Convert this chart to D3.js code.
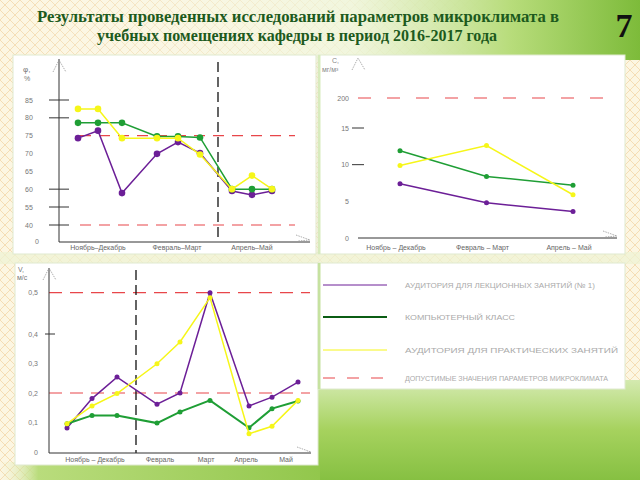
<!DOCTYPE html>
<html><head><meta charset="utf-8">
<script src="https://cdn.jsdelivr.net/npm/d3@7"></script>
<style>body{margin:0;overflow:hidden;background:#fff} svg{display:block}</style>
</head><body><svg id="c" width="640" height="480"></svg>
<script>
// ---------- DATA ----------
const titleLines = ["Результаты проведенных исследований параметров микроклимата в",
                    "учебных помещениях кафедры в период 2016-2017 года"];
const slideNumber = "7";
const legendNames = ["АУДИТОРИЯ ДЛЯ ЛЕКЦИОННЫХ ЗАНЯТИЙ (№ 1)", "КОМПЬЮТЕРНЫЙ КЛАСС",
                     "АУДИТОРИЯ ДЛЯ ПРАКТИЧЕСКИХ ЗАНЯТИЙ", "ДОПУСТИМЫЕ ЗНАЧЕНИЯ ПАРАМЕТРОВ МИКРОКЛИМАТА"];

// Chart 1 – relative humidity, %
const humPeriods = ["Ноябрь–Декабрь", "Февраль–Март", "Апрель–Май"];
const humPeriodDays = [20, 99, 174];
const humDays = [0, 20, 44, 79, 100, 122, 154, 174, 194];
const humBreakDay = 140;
const humTicks = [0, 40, 55, 60, 65, 70, 75, 80, 85];
const humTickMarks = [40, 55, 60, 80, 85];
const humLimits = [40, 75];
const humLecture  = [74.3, 76.4, 58.9, 69.9, 73.2, 70.1, 59.5, 58.4, 59.5];
const humComputer = [78.6, 78.6, 78.6, 74.8, 74.8, 74.5, 60.0, 60.0, 60.0];
const humPractice = [82.5, 82.5, 74.3, 74.3, 74.3, 69.7, 60.0, 63.8, 60.0];

// Chart 2 – concentration, мг/м3
const dustPeriods = ["Ноябрь – Декабрь", "Февраль – Март", "Апрель – Май"];
const dustTicks = [0, 5, 10, 15, 200];
const dustTickMarks = [10, 15];
const dustLimit = 200;
const dustLecture  = [7.4, 4.8, 3.6];
const dustComputer = [11.9, 8.4, 7.2];
const dustPractice = [9.9, 12.6, 5.9];

// Chart 3 – air velocity, м/с
const velLabels = ["Ноябрь – Декабрь", "Февраль", "Март", "Апрель", "Май"];
const velLabelDays = [28, 93, 139, 179, 219];
const velDays = [0, 25, 50, 90, 113, 143, 182, 205, 231];
const velBreakDay = 69;
const velTicks = [0, 0.1, 0.2, 0.3, 0.4, 0.5];
const velTickMarks = [0.4];
const velLimits = [0.2, 0.5];
const velLecture  = [0.081, 0.181, 0.254, 0.162, 0.200, 0.500, 0.156, 0.186, 0.237];
const velComputer = [0.096, 0.124, 0.124, 0.098, 0.136, 0.175, 0.082, 0.147, 0.173];
const velPractice = [0.096, 0.156, 0.198, 0.299, 0.373, 0.488, 0.062, 0.087, 0.175];

// ---------- STYLE ----------
const C = {purple:"#6c1f97", green:"#1f9e35", yellow:"#f6f619", red:"#e8464a", legGreen:"#0b5d14"};
const svg = d3.select("#c");
const defs = svg.append("defs");

// background
const pat = defs.append("pattern").attr("id","lat").attr("width",10).attr("height",10)
  .attr("patternUnits","userSpaceOnUse");
pat.append("rect").attr("width",10).attr("height",10).attr("fill","#fcf6e2");
pat.append("path").attr("d","M0,0L10,10M10,0L0,10").attr("stroke","#f3d7a8").attr("stroke-width",0.8);
svg.append("rect").attr("width",640).attr("height",480).attr("fill","url(#lat)");

const gTop = defs.append("linearGradient").attr("id","gTop").attr("x1","0").attr("x2","1").attr("y1","0").attr("y2","0");
gTop.append("stop").attr("offset","0").attr("stop-color","#fdfaf0").attr("stop-opacity",0);
gTop.append("stop").attr("offset","0.55").attr("stop-color","#eef6dc").attr("stop-opacity",0.8);
gTop.append("stop").attr("offset","0.8").attr("stop-color","#b7dc7a");
gTop.append("stop").attr("offset","1").attr("stop-color","#7dbb3a");
svg.append("rect").attr("x",0).attr("y",0).attr("width",640).attr("height",60).attr("fill","url(#gTop)");

const gBot = defs.append("linearGradient").attr("id","gBot").attr("x1","0").attr("x2","0").attr("y1","0").attr("y2","1");
gBot.append("stop").attr("offset","0").attr("stop-color","#d4eab0");
gBot.append("stop").attr("offset","0.5").attr("stop-color","#a6d25e");
gBot.append("stop").attr("offset","1").attr("stop-color","#86c042");
svg.append("rect").attr("x",316).attr("y",380).attr("width",324).attr("height",100).attr("fill","url(#gBot)");
const gBot2 = defs.append("linearGradient").attr("id","gBot2").attr("x1","0").attr("x2","1").attr("y1","0").attr("y2","0");
gBot2.append("stop").attr("offset","0").attr("stop-color","#e8f0c8").attr("stop-opacity",0);
gBot2.append("stop").attr("offset","0.12").attr("stop-color","#b9dc7c");
gBot2.append("stop").attr("offset","1").attr("stop-color","#92c74c");
svg.append("rect").attr("x",0).attr("y",462).attr("width",320).attr("height",18).attr("fill","url(#gBot2)");
svg.append("rect").attr("x",0).attr("y",252).attr("width",640).attr("height",12).attr("fill","#eef4d4").attr("opacity",0.7);

// title
const title = svg.append("g").attr("font-family","Liberation Serif, serif").attr("font-weight","bold")
  .attr("fill","#1d5a1d").attr("font-size",16).attr("text-anchor","middle");
title.append("text").attr("x",298).attr("y",22).attr("textLength",522).attr("lengthAdjust","spacingAndGlyphs").text(titleLines[0]);
title.append("text").attr("x",297).attr("y",41).attr("textLength",400).attr("lengthAdjust","spacingAndGlyphs").text(titleLines[1]);
svg.append("text").attr("x",624).attr("y",37).attr("text-anchor","middle").attr("font-family","Liberation Serif, serif")
  .attr("font-weight","bold").attr("font-size",34).attr("fill","#111").text(slideNumber);

// panels
const panels = [[13,55,303,199],[318,55,307,199],[15,263,303,202],[318,263,307,126]];
svg.selectAll("rect.panel").data(panels).join("rect").attr("class","panel")
  .attr("x",d=>d[0]).attr("y",d=>d[1]).attr("width",d=>d[2]).attr("height",d=>d[3])
  .attr("fill","#fff").attr("stroke","#dfe9cf").attr("stroke-width",1);
svg.append("rect").attr("x",318).attr("y",55).attr("width",2.5).attr("height",199).attr("fill","#d8ebbd");
svg.append("rect").attr("x",318).attr("y",263).attr("width",2.5).attr("height",126).attr("fill","#c6e2a0");

const lblFont = "Liberation Sans, Arial, sans-serif";
function arrowUp(g,x,y){ g.append("path").attr("d",`M${x-6},${y+12}L${x},${y}L${x+7},${y+12}`)
  .attr("fill","none").attr("stroke","#999").attr("stroke-width",0.8).attr("stroke-dasharray","1.5,1"); }
function arrowRight(g,x,y){ g.append("path").attr("d",`M${x-14},${y-5}L${x},${y}L${x-12},${y+1}`)
  .attr("fill","none").attr("stroke","#999").attr("stroke-width",0.8).attr("stroke-dasharray","1.5,1"); }
function series(g,x,y,xs,vals,color,r,w){
  const pts = vals.map((v,i)=>[x(xs[i]),y(v)]);
  g.append("path").attr("d",d3.line()(pts)).attr("fill","none").attr("stroke",color).attr("stroke-width",w);
  g.selectAll(null).data(pts).join("circle").attr("cx",d=>d[0]).attr("cy",d=>d[1]).attr("r",r).attr("fill",color);
}

// ---------- CHART 1 ----------
{
  const g = svg.append("g");
  const x = d3.scaleLinear().domain([0,194]).range([78,272]);
  const y = d3.scaleLinear().domain([0,40,55,85]).range([241,225,207,100]);
  const x0 = 59, xEnd = 310, yAx = 242;
  // limits
  humLimits.forEach(v=>g.append("line").attr("x1",80).attr("x2",295).attr("y1",y(v)).attr("y2",y(v))
    .attr("stroke",C.red).attr("stroke-width",1.2).attr("stroke-dasharray","11,8"));
  // break line
  g.append("line").attr("x1",x(humBreakDay)).attr("x2",x(humBreakDay)).attr("y1",62).attr("y2",yAx)
    .attr("stroke","#111").attr("stroke-width",1.3).attr("stroke-dasharray","10,5");
  // axes
  g.append("line").attr("x1",x0).attr("x2",x0).attr("y1",59).attr("y2",yAx).attr("stroke","#333").attr("stroke-width",1);
  g.append("line").attr("x1",x0).attr("x2",xEnd).attr("y1",yAx).attr("y2",yAx).attr("stroke","#333").attr("stroke-width",1);
  arrowUp(g,x0,60); arrowRight(g,xEnd,yAx-2);
  humTickMarks.forEach(v=>g.append("line").attr("x1",x0-10).attr("x2",x0+10).attr("y1",y(v)).attr("y2",y(v)).attr("stroke","#333"));
  g.selectAll(null).data(humTicks).join("text").attr("x",d=>d===0?37:29).attr("y",d=>y(d)+2.5)
    .attr("text-anchor","middle").attr("font-family",lblFont).attr("font-size",7).attr("fill","#777").text(d=>d);
  g.append("text").attr("x",23).attr("y",72).attr("font-family",lblFont).attr("font-size",8).attr("fill","#777").text("φ,");
  g.append("text").attr("x",24).attr("y",81).attr("font-family",lblFont).attr("font-size",7).attr("fill","#777").text("%");
  g.selectAll(null).data(humPeriods).join("text").attr("x",(d,i)=>x(humPeriodDays[i])).attr("y",250)
    .attr("text-anchor","middle").attr("font-family",lblFont).attr("font-size",7).attr("fill","#666").text(d=>d);
  series(g,x,y,humDays,humLecture,C.purple,3.3,1.5);
  series(g,x,y,humDays,humComputer,C.green,3.3,1.5);
  series(g,x,y,humDays,humPractice,C.yellow,3.3,1.5);
}

// ---------- CHART 2 ----------
{
  const g = svg.append("g");
  const x = d3.scalePoint().domain(dustPeriods).range([400,573]);
  const y = d3.scaleLinear().domain([0,15,200]).range([238,128,98]);
  g.append("line").attr("x1",358).attr("x2",617).attr("y1",y(dustLimit)).attr("y2",y(dustLimit))
    .attr("stroke",C.red).attr("stroke-width",1.2).attr("stroke-dasharray","13,16");
  g.append("line").attr("x1",358).attr("x2",617).attr("y1",238).attr("y2",238).attr("stroke","#333");
  arrowUp(g,358,58); arrowRight(g,617,236);
  dustTickMarks.forEach(v=>g.append("line").attr("x1",352).attr("x2",364).attr("y1",y(v)).attr("y2",y(v)).attr("stroke","#333"));
  g.selectAll(null).data(dustTicks).join("text").attr("x",349).attr("y",d=>y(d)+2.5)
    .attr("text-anchor","end").attr("font-family",lblFont).attr("font-size",7).attr("fill","#777").text(d=>d);
  g.append("text").attr("x",332).attr("y",63).attr("font-family",lblFont).attr("font-size",7).attr("fill","#888").text("C,");
  g.append("text").attr("x",322).attr("y",72).attr("font-family",lblFont).attr("font-size",7).attr("fill","#888").text("мг/м³");
  g.selectAll(null).data(dustPeriods).join("text").attr("x",d=>x(d)-4).attr("y",250)
    .attr("text-anchor","middle").attr("font-family",lblFont).attr("font-size",7).attr("fill","#666").text(d=>d);
  series(g,x,y,dustPeriods,dustLecture,C.purple,2.5,1.5);
  series(g,x,y,dustPeriods,dustComputer,C.green,2.5,1.5);
  series(g,x,y,dustPeriods,dustPractice,C.yellow,2.5,1.5);
}

// ---------- CHART 3 ----------
{
  const g = svg.append("g");
  const x = d3.scaleLinear().domain([0,231]).range([67,298]);
  const y = d3.scaleLinear().domain([0,0.4,0.5]).range([452,334,292.7]);
  const x0 = 49, yAx = 453, xEnd = 311;
  velLimits.forEach(v=>g.append("line").attr("x1",x0).attr("x2",310).attr("y1",y(v)).attr("y2",y(v))
    .attr("stroke",C.red).attr("stroke-width",1.2).attr("stroke-dasharray","13,8"));
  g.append("line").attr("x1",x(velBreakDay)).attr("x2",x(velBreakDay)).attr("y1",270).attr("y2",yAx)
    .attr("stroke","#111").attr("stroke-width",1.3).attr("stroke-dasharray","10,5");
  g.append("line").attr("x1",x0).attr("x2",x0).attr("y1",268).attr("y2",yAx).attr("stroke","#333");
  g.append("line").attr("x1",x0).attr("x2",xEnd).attr("y1",yAx).attr("y2",yAx).attr("stroke","#333");
  arrowUp(g,x0,268); arrowRight(g,xEnd,yAx-1);
  velTickMarks.forEach(v=>g.append("line").attr("x1",x0-4).attr("x2",x0+6).attr("y1",y(v)).attr("y2",y(v)).attr("stroke","#333"));
  g.selectAll(null).data(velTicks).join("text").attr("x",38).attr("y",d=>y(d)+2.5)
    .attr("text-anchor","end").attr("font-family",lblFont).attr("font-size",7).attr("fill","#777")
    .text(d=>d===0?"0":String(d).replace(".",","));
  g.append("text").attr("x",18).attr("y",272).attr("font-family",lblFont).attr("font-size",7).attr("fill","#777").text("V,");
  g.append("text").attr("x",17).attr("y",280).attr("font-family",lblFont).attr("font-size",7).attr("fill","#777").text("м/с");
  g.selectAll(null).data(velLabels).join("text").attr("x",(d,i)=>x(velLabelDays[i])).attr("y",462)
    .attr("text-anchor","middle").attr("font-family",lblFont).attr("font-size",7).attr("fill","#666").text(d=>d);
  series(g,x,y,velDays,velLecture,C.purple,2.5,1.5);
  series(g,x,y,velDays,velComputer,C.green,2.5,2);
  series(g,x,y,velDays,velPractice,C.yellow,2.5,1.5);
}

// ---------- LEGEND ----------
{
  const g = svg.append("g");
  const rows = d3.scaleLinear().domain([0,3]).range([285,378]);
  const styles = [{c:C.purple,w:1,d:null},{c:C.legGreen,w:2,d:null},{c:C.yellow,w:1,d:null},{c:C.red,w:1.2,d:"12,12"}];
  const widths = [190,110,213,203];
  legendNames.forEach((n,i)=>{
    const yy = i===1 ? 317 : i===2 ? 350 : rows(i);
    g.append("line").attr("x1",323).attr("x2",387).attr("y1",yy).attr("y2",yy)
      .attr("stroke",styles[i].c).attr("stroke-width",styles[i].w).attr("stroke-dasharray",styles[i].d);
    g.append("text").attr("x",405).attr("y",yy+2.5).attr("font-family",lblFont).attr("font-size",7.5)
      .attr("fill","#aaa").attr("textLength",widths[i]).attr("lengthAdjust","spacingAndGlyphs").text(n);
  });
}
</script></body></html>
